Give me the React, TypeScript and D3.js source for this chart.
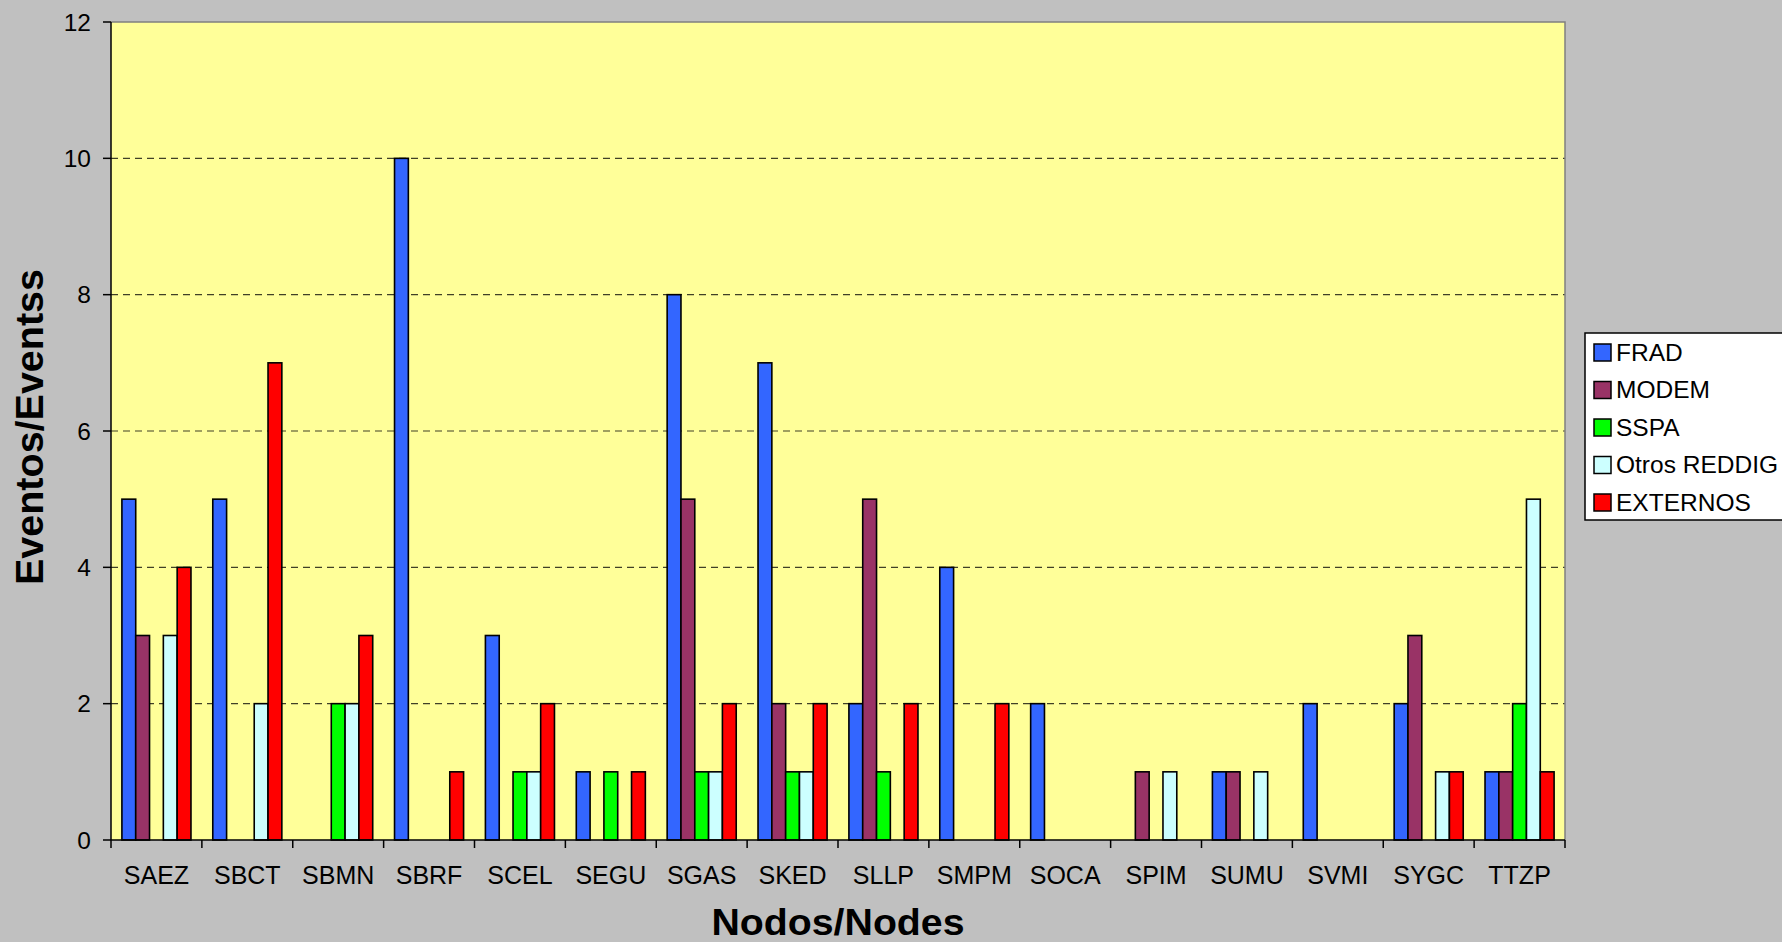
import React, { useEffect, useRef } from "react";
import * as d3 from "d3";

const nodes = ["SAEZ", "SBCT", "SBMN", "SBRF", "SCEL", "SEGU", "SGAS", "SKED", "SLLP", "SMPM", "SOCA", "SPIM", "SUMU", "SVMI", "SYGC", "TTZP"];
const seriesNames = ["FRAD", "MODEM", "SSPA", "Otros REDDIG", "EXTERNOS"];
const frad = [5, 5, 0, 10, 3, 1, 8, 7, 2, 4, 2, 0, 1, 2, 2, 1];
const modem = [3, 0, 0, 0, 0, 0, 5, 2, 5, 0, 0, 1, 1, 0, 3, 1];
const sspa = [0, 0, 2, 0, 1, 1, 1, 1, 1, 0, 0, 0, 0, 0, 0, 2];
const otros = [3, 2, 2, 0, 1, 0, 1, 1, 0, 0, 0, 1, 1, 0, 1, 5];
const externos = [4, 7, 3, 1, 2, 1, 2, 2, 2, 2, 0, 0, 0, 0, 1, 1];
const yTicks = [0, 2, 4, 6, 8, 10, 12];

const colors = ["#3366FF", "#993366", "#00FF00", "#CCFFFF", "#FF0000"];
const font = "'Liberation Sans', Arial, sans-serif";

export default function App() {
  const ref = useRef<SVGSVGElement>(null);

  useEffect(() => {
    const width = 1782;
    const height = 942;
    const m = { left: 111, right: 1565, top: 22, bottom: 840 };
    const values = [frad, modem, sspa, otros, externos];

    const svg = d3.select(ref.current);
    svg.selectAll("*").remove();
    svg.attr("width", width).attr("height", height);

    svg.append("rect").attr("width", width).attr("height", height).attr("fill", "#C0C0C0");

    const x0 = d3.scaleBand().domain(nodes).range([m.left, m.right]).paddingInner(0.24).paddingOuter(0.12);
    const x1 = d3.scaleBand().domain(seriesNames).range([0, x0.bandwidth()]);
    const y = d3.scaleLinear().domain([0, 12]).range([m.bottom, m.top]);
    const step = (m.right - m.left) / nodes.length;

    svg
      .append("rect")
      .attr("x", m.left)
      .attr("y", m.top)
      .attr("width", m.right - m.left)
      .attr("height", m.bottom - m.top)
      .attr("fill", "#FFFF99");

    // grid
    svg
      .append("g")
      .selectAll("line")
      .data(yTicks.filter((t) => t > 0 && t < 12))
      .join("line")
      .attr("x1", m.left)
      .attr("x2", m.right)
      .attr("y1", (d) => y(d))
      .attr("y2", (d) => y(d))
      .attr("stroke", "#000")
      .attr("stroke-opacity", 0.75)
      .attr("stroke-width", 1.2)
      .attr("stroke-dasharray", "7,5");

    // plot border top/right
    svg
      .append("path")
      .attr("d", `M${m.left},${m.top}H${m.right}V${m.bottom}`)
      .attr("fill", "none")
      .attr("stroke", "#808080")
      .attr("stroke-width", 1.5);

    // bars
    const groups = svg
      .append("g")
      .selectAll("g")
      .data(nodes)
      .join("g")
      .attr("transform", (d) => `translate(${x0(d)},0)`);

    groups
      .selectAll("rect")
      .data((_, i) => seriesNames.map((s, k) => ({ s, k, v: values[k][i] })).filter((d) => d.v > 0))
      .join("rect")
      .attr("x", (d) => x1(d.s)!)
      .attr("y", (d) => y(d.v))
      .attr("width", x1.bandwidth())
      .attr("height", (d) => y(0) - y(d.v))
      .attr("fill", (d) => colors[d.k])
      .attr("stroke", "#000")
      .attr("stroke-width", 1.6);

    // y axis
    const yAxis = svg.append("g").attr("transform", `translate(${m.left},0)`);
    yAxis
      .append("line")
      .attr("x1", 0)
      .attr("x2", 0)
      .attr("y1", m.top)
      .attr("y2", m.bottom)
      .attr("stroke", "#000")
      .attr("stroke-width", 1.5);
    yAxis
      .selectAll("line.tick")
      .data(yTicks)
      .join("line")
      .attr("class", "tick")
      .attr("x1", -8)
      .attr("x2", 0)
      .attr("y1", (d) => y(d))
      .attr("y2", (d) => y(d))
      .attr("stroke", "#000")
      .attr("stroke-width", 1.5);
    yAxis
      .selectAll("text")
      .data(yTicks)
      .join("text")
      .attr("x", -20)
      .attr("y", (d) => y(d))
      .attr("dy", "0.36em")
      .attr("text-anchor", "end")
      .attr("font-family", font)
      .attr("font-size", 24.5)
      .text((d) => d);

    // x axis
    const xAxis = svg.append("g");
    xAxis
      .append("line")
      .attr("x1", m.left)
      .attr("x2", m.right)
      .attr("y1", m.bottom)
      .attr("y2", m.bottom)
      .attr("stroke", "#000")
      .attr("stroke-width", 1.5);
    xAxis
      .selectAll("line.tick")
      .data(d3.range(nodes.length + 1))
      .join("line")
      .attr("class", "tick")
      .attr("x1", (i) => m.left + i * step)
      .attr("x2", (i) => m.left + i * step)
      .attr("y1", m.bottom)
      .attr("y2", m.bottom + 8)
      .attr("stroke", "#000")
      .attr("stroke-width", 1.5);
    xAxis
      .selectAll("text")
      .data(nodes)
      .join("text")
      .attr("x", (d) => x0(d)! + x0.bandwidth() / 2)
      .attr("y", 884)
      .attr("text-anchor", "middle")
      .attr("font-family", font)
      .attr("font-size", 25)
      .text((d) => d);

    // titles
    svg
      .append("text")
      .attr("x", (m.left + m.right) / 2)
      .attr("y", 935)
      .attr("text-anchor", "middle")
      .attr("font-family", font)
      .attr("font-weight", "bold")
      .attr("font-size", 36)
      .attr("textLength", 253)
      .attr("lengthAdjust", "spacingAndGlyphs")
      .text("Nodos/Nodes");

    svg
      .append("text")
      .attr("transform", `translate(43,${(m.top + m.bottom) / 2 - 4}) rotate(-90)`)
      .attr("text-anchor", "middle")
      .attr("font-family", font)
      .attr("font-weight", "bold")
      .attr("font-size", 38)
      .attr("textLength", 316)
      .attr("lengthAdjust", "spacingAndGlyphs")
      .text("Eventos/Eventss");

    // legend
    const legend = svg.append("g").attr("transform", "translate(1585,333)");
    legend
      .append("rect")
      .attr("x", 0)
      .attr("y", 0)
      .attr("width", 210)
      .attr("height", 187)
      .attr("fill", "#fff")
      .attr("stroke", "#000")
      .attr("stroke-width", 1.5);
    const items = legend
      .selectAll("g")
      .data(seriesNames)
      .join("g")
      .attr("transform", (_, i) => `translate(0,${19 + i * 37.5})`);
    items
      .append("rect")
      .attr("x", 9)
      .attr("y", -8)
      .attr("width", 17)
      .attr("height", 17)
      .attr("fill", (_, i) => colors[i])
      .attr("stroke", "#000")
      .attr("stroke-width", 1.5);
    items
      .append("text")
      .attr("x", 31)
      .attr("y", 0)
      .attr("dy", "0.36em")
      .attr("font-family", font)
      .attr("font-size", 24.5)
      .text((d) => d);
  }, []);

  return <svg ref={ref} style={{ position: "absolute", left: 0, top: 0, display: "block" }}></svg>;
}
